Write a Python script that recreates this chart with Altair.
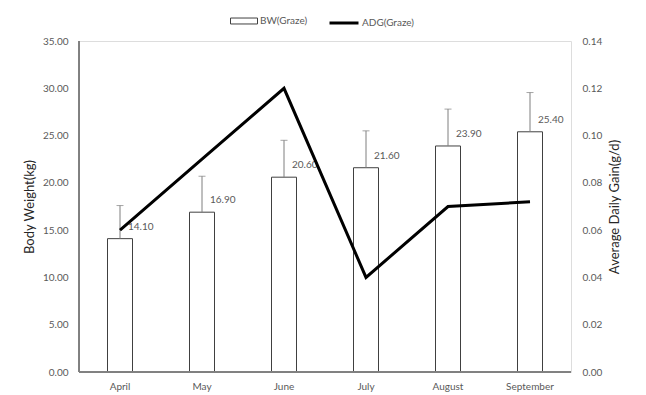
import altair as alt
import pandas as pd

months = ["April", "May", "June", "July", "August", "September"]
bw = [14.10, 16.90, 20.60, 21.60, 23.90, 25.40]
bw_sd = [3.5, 3.8, 3.9, 3.9, 3.9, 4.15]
adg = [0.06, 0.09, 0.12, 0.04, 0.07, 0.072]

df = pd.DataFrame({"month": months, "bw": bw, "sd": bw_sd, "adg": adg})

FONT = "Lato"
GREY = "#595959"
AXIS_LINE = "#808080"

x = alt.X("month:N", sort=months, title=None,
          scale=alt.Scale(paddingInner=0, paddingOuter=0),
          axis=alt.Axis(labelAngle=0, ticks=False, domain=False,
                        labelColor=GREY, labelFontSize=10, labelPadding=9,
                        labelFont=FONT, grid=False))

yscale = alt.Scale(domain=[0, 35], nice=False)
left_axis = alt.Axis(orient="left", values=[0, 5, 10, 15, 20, 25, 30, 35], format=".2f",
                     grid=False, ticks=False, domainColor=AXIS_LINE,
                     labelColor=GREY, labelFontSize=10, labelFont=FONT,
                     labelPadding=11, titleFont=FONT, titleFontSize=13,
                     titleFontWeight="normal", titleColor="#262626",
                     titlePadding=6)
LT = "Body Weight(kg)"

base = alt.Chart(df).transform_calculate(
    upper="datum.bw + datum.sd", series="'BW(Graze)'", series2="'ADG(Graze)'"
)

bars = base.mark_bar(size=25, stroke="#404040", strokeWidth=1).encode(
    x=x,
    y=alt.Y("bw:Q", scale=yscale, title=LT, axis=left_axis),
    fill=alt.Fill("series:N", scale=alt.Scale(domain=["BW(Graze)"], range=["white"]),
                  legend=alt.Legend(title=None, orient="none", legendX=151, legendY=-34,
                                    symbolType="M-1,-0.22H1V0.22H-1Z", symbolSize=729,
                                    symbolStrokeColor="#404040", symbolStrokeWidth=1,
                                    labelFont=FONT, labelFontSize=10, labelColor=GREY,
                                    labelOffset=2)),
)

rules = base.mark_rule(color="#7f7f7f", strokeWidth=1).encode(
    x=x,
    y=alt.Y("bw:Q", scale=yscale, title=LT, axis=left_axis),
    y2="upper:Q",
)

caps = base.mark_tick(color="#7f7f7f", thickness=1, size=7).encode(
    x=x,
    y=alt.Y("upper:Q", scale=yscale, title=LT, axis=left_axis),
)

labels = base.mark_text(align="left", baseline="middle", dx=8, dy=-12,
                        font=FONT, fontSize=10, color=GREY).encode(
    x=x,
    y=alt.Y("bw:Q", scale=yscale, title=LT, axis=left_axis),
    text=alt.Text("bw:Q", format=".2f"),
)

baseline = alt.Chart(df).mark_rule(color=AXIS_LINE, strokeWidth=1).encode(
    y=alt.datum(0, scale=yscale, title=LT, axis=left_axis),
    x=alt.value(0),
    x2=alt.value(492),
)

leftline = alt.Chart(df).mark_rule(color=AXIS_LINE, strokeWidth=1).encode(
    y=alt.datum(0, scale=yscale, title=LT, axis=left_axis),
    y2=alt.datum(35),
    x=alt.value(0),
)

left = alt.layer(bars, rules, caps, labels, baseline, leftline)

line = base.mark_line(strokeWidth=3).encode(
    x=x,
    y=alt.Y("adg:Q", scale=alt.Scale(domain=[0, 0.14], nice=False),
            title="Average Daily Gain(g/d)",
            axis=alt.Axis(orient="right", values=[0, 0.02, 0.04, 0.06, 0.08, 0.10, 0.12, 0.14],
                          format=".2f", grid=False, ticks=False, domain=False,
                          labelColor=GREY, labelFontSize=10, labelFont=FONT,
                          labelPadding=11, titleFont=FONT, titleFontSize=13,
                          titleFontWeight="normal", titleColor="#262626",
                          titleAngle=270, titleBaseline="bottom",
                          titlePadding=20)),
    stroke=alt.Stroke("series2:N", scale=alt.Scale(domain=["ADG(Graze)"], range=["black"]),
                      legend=alt.Legend(title=None, orient="none", legendX=249, legendY=-34,
                                        symbolType="stroke", symbolSize=841,
                                        symbolStrokeWidth=3,
                                        labelFont=FONT, labelFontSize=10, labelColor=GREY,
                                        labelOffset=2)),
)

chart = alt.layer(left, line).resolve_scale(
    y="independent", fill="independent", stroke="independent"
).properties(
    width=492, height=331,
    autosize=alt.AutoSizeParams(type="none"),
    padding={"left": 79, "top": 41, "right": 75, "bottom": 23},
).configure_view(strokeWidth=0, stroke="transparent").configure(background="white")

chart.save("out.html", embed_options={"renderer": "svg", "actions": False})
